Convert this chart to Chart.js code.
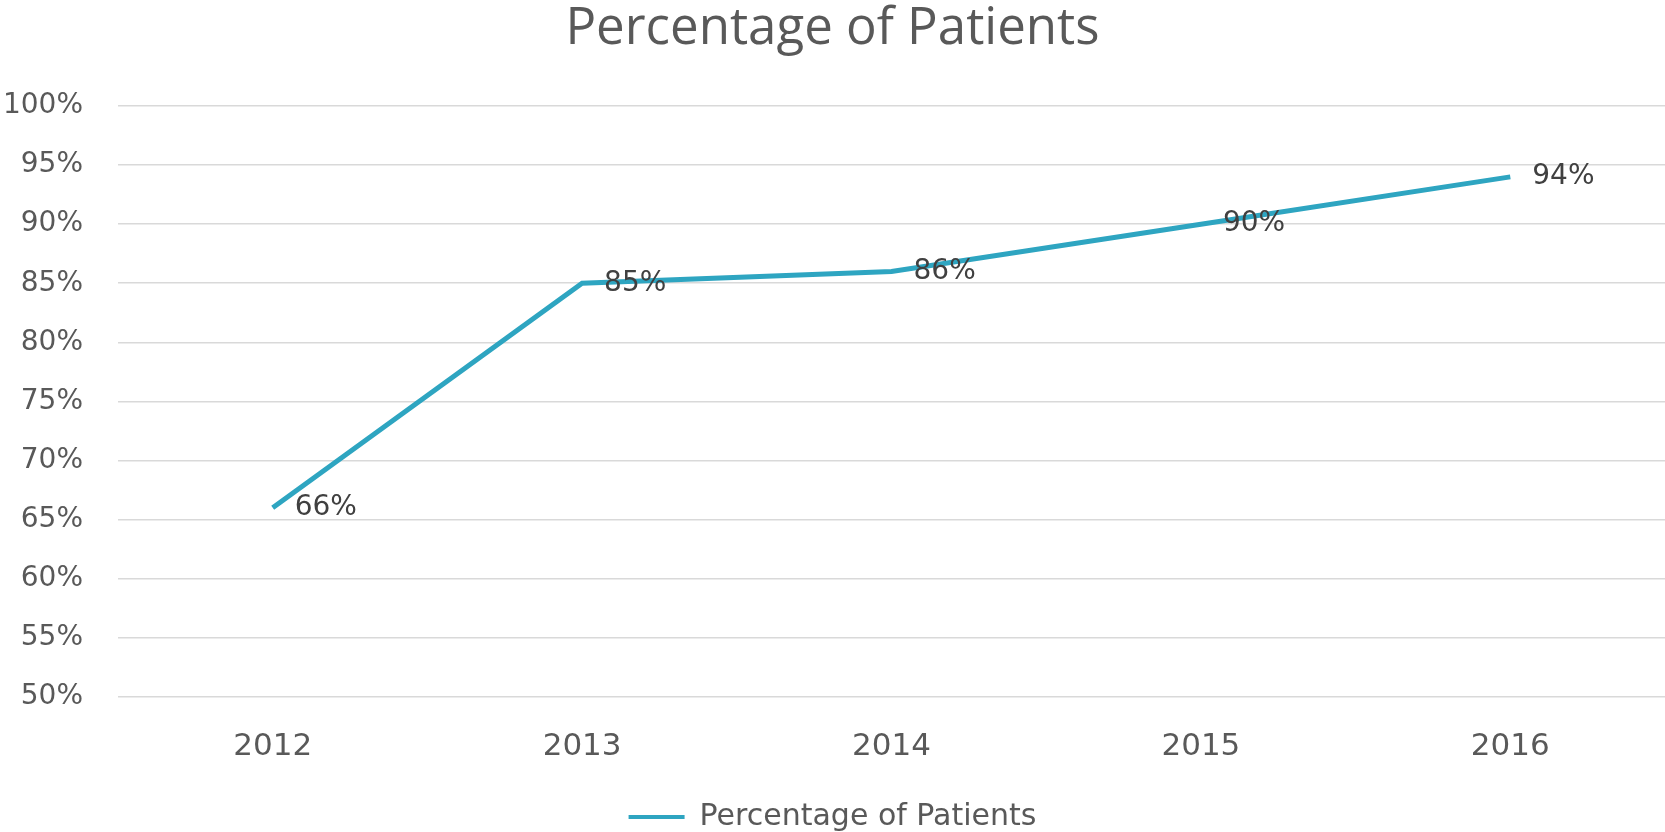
<!DOCTYPE html>
<html>
<head>
<meta charset="utf-8">
<style>
  html, body { margin: 0; padding: 0; background: #fff; }
  #wrap { width: 1665px; height: 832px; }
</style>
<script src="https://cdn.jsdelivr.net/npm/chart.js@4/dist/chart.umd.min.js"></script>
</head>
<body>
<div id="wrap"><canvas id="patientsChart"></canvas></div>
<script>
const years = ['2012', '2013', '2014', '2015', '2016'];
const patientPct = [66, 85, 86, 90, 94];
const seriesName = 'Percentage of Patients';

const lineColor = 'rgb(46, 165, 193)';
const textGray = '#595959';

// draws "66%" etc. just right of each point
const pointLabels = {
  id: 'pointLabels',
  afterDatasetsDraw(chart) {
    const ctx = chart.ctx;
    const meta = chart.getDatasetMeta(0);
    ctx.save();
    ctx.font = '28px "DejaVu Sans"';
    ctx.fillStyle = '#404040';
    ctx.textAlign = 'left';
    ctx.textBaseline = 'middle';
    meta.data.forEach((pt, i) => {
      ctx.fillText(patientPct[i] + '%', pt.x + 22, pt.y);
    });
    ctx.restore();
  }
};

// legend sits low in the original, its text nearly touching the bottom edge
const lowLegend = {
  id: 'lowLegend',
  afterInit(chart) {
    const legend = chart.legend;
    if (!legend || legend._lowered) return;
    const fit = legend.fit;
    legend.fit = function () { fit.call(this); this.height -= 10; };
    legend._lowered = true;
  }
};

const ctx = document.getElementById('patientsChart').getContext('2d');
const patientsChart = new Chart(ctx, {
  type: 'line',
  data: {
    labels: years,
    datasets: [{
      label: seriesName,
      data: patientPct,
      borderColor: lineColor,
      backgroundColor: lineColor,
      borderWidth: 5,
      pointRadius: 0,
      tension: 0
    }]
  },
  options: {
    responsive: true,
    maintainAspectRatio: false,
    animation: false,
    layout: { padding: 0 },
    plugins: {
      title: {
        display: true,
        text: seriesName,
        color: textGray,
        font: { family: '"Open Sans"', size: 51, weight: 'normal', lineHeight: 1 },
        padding: { top: 4, bottom: 51 }
      },
      legend: {
        position: 'bottom',
        labels: {
          color: textGray,
          font: { family: '"DejaVu Sans"', size: 30 },
          boxWidth: 56,
          boxHeight: 4,
          padding: 4,
          generateLabels: chart => Chart.defaults.plugins.legend.labels.generateLabels(chart)
            .map(l => ({ ...l, lineWidth: 0 }))
        }
      },
      tooltip: { enabled: false }
    },
    scales: {
      x: {
        offset: true,
        grid: { display: false, drawTicks: false },
        border: { display: false },
        ticks: {
          color: textGray,
          font: { family: '"DejaVu Sans"', size: 31 },
          padding: 32
        }
      },
      y: {
        min: 50,
        max: 100,
        afterFit: scale => { scale.width = 118; },
        grid: { color: '#d9d9d9', lineWidth: 1.5, drawTicks: false },
        border: { display: false },
        ticks: {
          stepSize: 5,
          color: textGray,
          font: { family: '"DejaVu Sans"', size: 28 },
          padding: 35,
          callback: v => v + '%'
        }
      }
    }
  },
  plugins: [pointLabels, lowLegend]
});
</script>
</body>
</html>
